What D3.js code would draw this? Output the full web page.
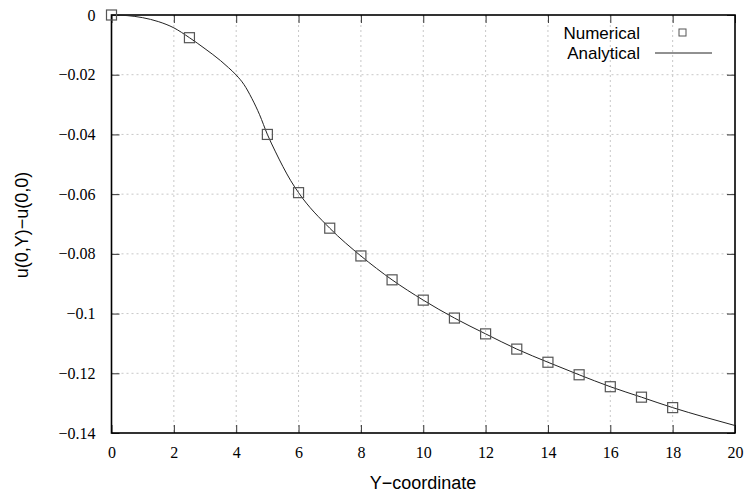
<!DOCTYPE html>
<html>
<head>
<meta charset="utf-8">
<script src="https://cdn.jsdelivr.net/npm/d3@7"></script>
<style>
  html, body { margin: 0; padding: 0; background: #fff; }
  svg { display: block; }
</style>
</head>
<body>
<svg id="chart" width="745" height="494"></svg>
<script>
// ---- data ----
const numY = [0, 2.5, 5, 6, 7, 8, 9, 10, 11, 12, 13, 14, 15, 16, 17, 18];
const numU = [0, -0.0076, -0.0400, -0.0595, -0.0714, -0.0807, -0.0887, -0.0955, -0.1015, -0.1068, -0.1119, -0.1163, -0.1205, -0.1245, -0.1280, -0.1315];

const anaY = [0, 0.5, 1, 1.5, 2, 2.5, 3, 3.5, 3.75, 4, 4.25, 4.5, 4.75, 5, 5.25, 5.5, 5.75, 6, 7, 8, 9, 10, 11, 12, 13, 14, 15, 16, 17, 18, 19, 20];
const anaU = [0, -0.0002, -0.0009, -0.0022, -0.0043, -0.0076, -0.0113, -0.0153, -0.0176, -0.0201, -0.0233, -0.0279, -0.0334, -0.0400, -0.0456, -0.0508, -0.0555, -0.0595, -0.0714, -0.0807, -0.0887, -0.0955, -0.1015, -0.1068, -0.1119, -0.1163, -0.1205, -0.1245, -0.1280, -0.1315, -0.1346, -0.1375];

const xTicks = [0, 2, 4, 6, 8, 10, 12, 14, 16, 18, 20];
const yTicks = [0, -0.02, -0.04, -0.06, -0.08, -0.1, -0.12, -0.14];
const yTickLabels = ["0", "\u22120.02", "\u22120.04", "\u22120.06", "\u22120.08", "\u22120.1", "\u22120.12", "\u22120.14"];

// ---- layout ----
const SERIF = "'Liberation Serif'";
const SANS = "'Liberation Sans'";
const svg = d3.select("#chart");
const L = 111.5, R = 735, T = 15, B = 433;
const x = d3.scaleLinear().domain([0, 20]).range([L, R]);
const y = d3.scaleLinear().domain([-0.14, 0]).range([B, T]);

// grid
const grid = svg.append("g").attr("stroke", "#c8c8c8").attr("stroke-width", 1).attr("stroke-dasharray", "2,3");
grid.selectAll("line.gx").data(xTicks.slice(1, -1)).enter().append("line")
  .attr("x1", d => x(d)).attr("x2", d => x(d)).attr("y1", T).attr("y2", B);
grid.selectAll("line.gy").data(yTicks.slice(1, -1)).enter().append("line")
  .attr("x1", L).attr("x2", R).attr("y1", d => y(d)).attr("y2", d => y(d));

// axes with inward ticks
const tickLen = 8;
const axB = svg.append("g").attr("transform", `translate(0,${B})`)
  .call(d3.axisBottom(x).tickValues(xTicks).tickSizeInner(-tickLen).tickSizeOuter(0).tickPadding(14).tickFormat(d3.format("d")));
const axT = svg.append("g").attr("transform", `translate(0,${T})`)
  .call(d3.axisTop(x).tickValues(xTicks).tickSizeInner(-tickLen).tickSizeOuter(0).tickFormat(""));
const axL = svg.append("g").attr("transform", `translate(${L},0)`)
  .call(d3.axisLeft(y).tickValues(yTicks).tickSizeInner(-tickLen).tickSizeOuter(0).tickPadding(16).tickFormat((d, i) => yTickLabels[i]));
const axR = svg.append("g").attr("transform", `translate(${R},0)`)
  .call(d3.axisRight(y).tickValues(yTicks).tickSizeInner(-tickLen).tickSizeOuter(0).tickFormat(""));

[axB, axT, axL, axR].forEach(a => {
  a.attr("font-family", null).attr("font-size", null).style("font-family", SERIF).style("font-size", "16px");
  a.select(".domain").remove();
  a.selectAll(".tick line").attr("stroke", "#333").attr("stroke-width", 1);
  a.selectAll("text").style("font-family", SERIF).style("font-size", "16px").attr("fill", "#000");
});
axB.selectAll("text").attr("dy", "0.71em");

// frame
svg.append("rect").attr("x", L).attr("y", T).attr("width", R - L).attr("height", B - T)
  .attr("fill", "none").attr("stroke", "#000").attr("stroke-width", 1.6);

// analytical line
const line = d3.line().x((d, i) => x(anaY[i])).y((d, i) => y(anaU[i])).curve(d3.curveMonotoneX);
svg.append("path").datum(anaU).attr("d", line).attr("fill", "none").attr("stroke", "#222").attr("stroke-width", 1);

// numerical markers
const s = 10;
svg.append("g").selectAll("rect").data(numU).enter().append("rect")
  .attr("x", (d, i) => x(numY[i]) - s / 2).attr("y", d => y(d) - s / 2)
  .attr("width", s).attr("height", s)
  .attr("fill", "none").attr("stroke", "#555").attr("stroke-width", 1.2);

// legend
const lg = svg.append("g").attr("fill", "#000");
lg.append("text").attr("x", 640).attr("y", 33).attr("dy", "0.35em").attr("text-anchor", "end")
  .style("font-family", SANS).style("font-size", "17px").text("Numerical");
lg.append("text").attr("x", 640).attr("y", 53).attr("dy", "0.35em").attr("text-anchor", "end")
  .style("font-family", SANS).style("font-size", "17px").text("Analytical");
lg.append("rect").attr("x", 679).attr("y", 29).attr("width", 7).attr("height", 7).attr("fill", "none").attr("stroke", "#555").attr("stroke-width", 1);
lg.append("line").attr("x1", 655).attr("x2", 712).attr("y1", 53).attr("y2", 53).attr("stroke", "#222").attr("stroke-width", 1);

// axis titles
svg.append("text").attr("x", 423).attr("y", 483).attr("dy", "0.35em").attr("text-anchor", "middle")
  .style("font-family", SANS).style("font-size", "18px").text("Y\u2212coordinate");
svg.append("text").attr("transform", "translate(22,225) rotate(-90)").attr("dy", "0.35em").attr("text-anchor", "middle")
  .style("font-family", SANS).style("font-size", "18px").text("u(0,Y)\u2212u(0,0)");
</script>
</body>
</html>
